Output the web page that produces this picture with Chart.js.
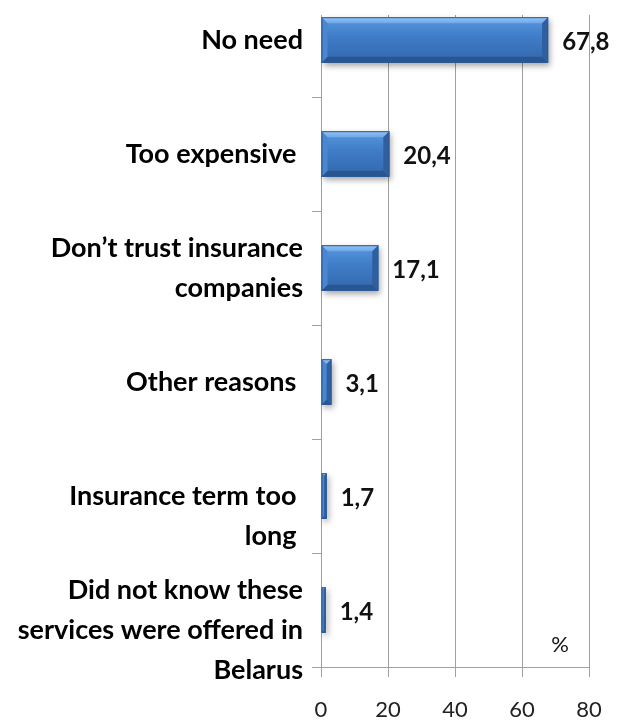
<!DOCTYPE html>
<html>
<head>
<meta charset="utf-8">
<script src="https://cdn.jsdelivr.net/npm/chart.js@4/dist/chart.umd.min.js"></script>
<style>
    html, body { margin: 0; padding: 0; background: #fff; }
    .wrap { position: relative; width: 626px; height: 722px; overflow: hidden; }
    #reasons-chart { position: absolute; left: 0; top: -17px; }
</style>
</head>
<body>
<div class="wrap">
    <canvas id="reasons-chart" width="626" height="739"></canvas>
</div>
<script>
// reasons for not buying insurance, share of answers in %
// (the leading blank line pushes the longer wrapped labels down, as in the source sheet)
const reasons = [
    'No need',
    'Too expensive ',
    ['Don\u2019t trust insurance', 'companies'],
    'Other reasons ',
    ['', 'Insurance term too ', 'long '],
    ['', 'Did not know these', 'services were offered in', 'Belarus'],
];
const shares = [67.8, 20.4, 17.1, 3.1, 1.7, 1.4];
const axisTicks = [0, 20, 40, 60, 80];

const gridGray = '#a0a0a0';

// soft shadow under the bars, then a bevelled face painted on top
const bevelBars = {
    id: 'bevelBars',
    beforeDatasetsDraw(chart) {
        const { ctx, chartArea } = chart;
        // plot frame starts a bit lower than the first category band
        ctx.save();
        ctx.fillStyle = '#fff';
        ctx.fillRect(chartArea.left - 2, 0, chartArea.right - chartArea.left + 4, chartArea.top + 32);
        ctx.restore();
        ctx.save();
        ctx.shadowColor = 'rgba(0,0,0,0.35)';
        ctx.shadowBlur = 6;
        ctx.shadowOffsetX = 2;
        ctx.shadowOffsetY = 3;
    },
    afterDatasetsDraw(chart) {
        const { ctx } = chart;
        ctx.restore();
        const meta = chart.getDatasetMeta(0);
        meta.data.forEach((bar, i) => {
            const p = bar.getProps(['x', 'y', 'base', 'height'], true);
            const L = p.base, R = p.x;
            const T = p.y - p.height / 2, B = p.y + p.height / 2;
            const b = Math.min(6, (R - L) / 2);

            ctx.save();
            const g = ctx.createLinearGradient(0, T, 0, B);
            g.addColorStop(0, '#5898e0');
            g.addColorStop(0.45, '#3f7bc6');
            g.addColorStop(1, '#3268ad');
            ctx.fillStyle = g;
            ctx.fillRect(L, T, R - L, B - T);

            const face = (pts, color) => {
                ctx.beginPath();
                ctx.moveTo(pts[0][0], pts[0][1]);
                pts.slice(1).forEach((q) => ctx.lineTo(q[0], q[1]));
                ctx.closePath();
                ctx.fillStyle = color;
                ctx.fill();
            };
            const tg = ctx.createLinearGradient(0, T, 0, T + b);
            tg.addColorStop(0, '#94c4f6');
            tg.addColorStop(1, '#6ea8e8');
            face([[L, T], [R, T], [R - b, T + b], [L + b, T + b]], tg);
            face([[L, B], [R, B], [R - b, B - b], [L + b, B - b]], '#2a568f');
            face([[R, T], [R, B], [R - b, B - b], [R - b, T + b]], '#2f5f9e');
            face([[L, T], [L, B], [L + b, B - b], [L + b, T + b]], '#4a87d0');

            ctx.strokeStyle = '#2c5b97';
            ctx.lineWidth = 1;
            ctx.strokeRect(L + 0.5, T + 0.5, R - L - 1, B - T - 1);

            // value label
            ctx.fillStyle = '#111';
            ctx.font = 'bold 24px Lato';
            ctx.textAlign = 'left';
            ctx.textBaseline = 'middle';
            ctx.fillText(shares[i].toFixed(1).replace('.', ','), R + 14, p.y + 2);
            ctx.restore();
        });

        // unit mark in the lower right corner of the plot
        const area = chart.chartArea;
        ctx.save();
        ctx.fillStyle = '#111';
        ctx.font = '22px Lato';
        ctx.textAlign = 'center';
        ctx.textBaseline = 'middle';
        ctx.fillText('%', area.right - 29, area.bottom - 22);
        ctx.restore();
    },
};

new Chart(document.getElementById('reasons-chart'), {
    type: 'bar',
    data: {
        labels: reasons,
        datasets: [{
            data: shares,
            backgroundColor: '#3f7bc6',
            borderWidth: 0,
            barPercentage: 0.4,
            categoryPercentage: 1,
        }],
    },
    options: {
        indexAxis: 'y',
        responsive: false,
        animation: false,
        devicePixelRatio: 1,
        layout: { padding: { top: 0, right: 37, left: 0, bottom: 0 } },
        plugins: {
            legend: { display: false },
            tooltip: { enabled: false },
        },
        scales: {
            y: {
                type: 'category',
                offset: true,
                grid: {
                    offset: true,
                    drawOnChartArea: false,
                    tickLength: 9,
                    color: gridGray,
                },
                border: { color: gridGray, width: 1 },
                ticks: {
                    autoSkip: false,
                    color: '#000',
                    padding: 9,
                    font: { family: 'Lato', size: 27, weight: 'bold', lineHeight: 1.48 },
                },
                afterFit(scale) {
                    scale.width = 321;
                    scale.paddingTop = 0;
                    scale.paddingBottom = 0;
                },
            },
            x: {
                min: axisTicks[0],
                max: axisTicks[axisTicks.length - 1],
                afterBuildTicks(scale) {
                    scale.ticks = axisTicks.map((v) => ({ value: v }));
                },
                grid: { color: gridGray, tickLength: 10 },
                border: { color: gridGray, width: 1 },
                ticks: {
                    color: '#222',
                    padding: 20,
                    font: { family: 'Lato', size: 22 },
                },
                afterFit(scale) {
                    scale.height = 55;
                    scale.paddingLeft = 0;
                    scale.paddingRight = 0;
                },
            },
        },
    },
    plugins: [bevelBars],
});
</script>
</body>
</html>
